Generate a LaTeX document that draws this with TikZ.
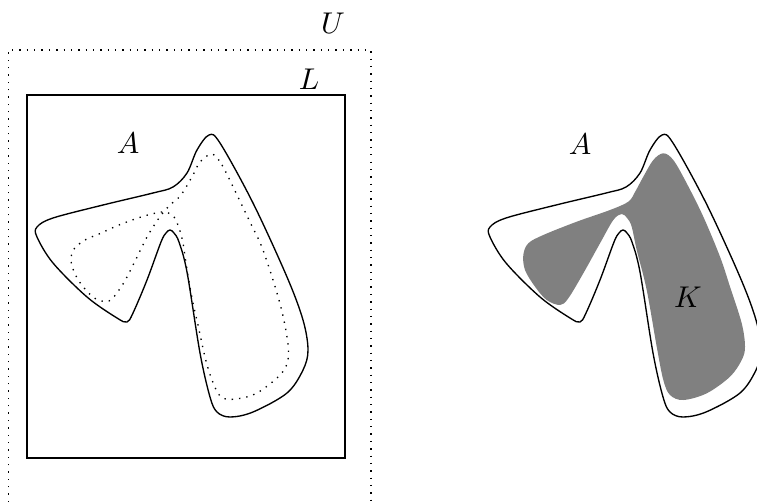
\documentclass[tikz,border=0pt]{standalone}
\begin{document}
\begin{tikzpicture}[x=0.3333pt,y=-0.3333pt,
  outline/.style={line width=0.45pt, line join=round},
  inner/.style={line width=0.45pt, dotted},
  frame/.style={line width=0.75pt},
  uframe/.style={line width=0.45pt, dotted},
  kfill/.style={fill=gray, draw=none},
  lab/.style={inner sep=0pt, font=\normalsize}]
\useasboundingbox (0,0) rectangle (757,502);
\clip (0,0) rectangle (757,502);
% universe U (dotted, open at the bottom)
\draw[uframe] (8.3,502) -- (8.3,50) -- (371,50) -- (371,502);
\node[lab] (U) at (333,23) {$U$};
% box L
\draw[frame] (27,95) rectangle (345,458);
\node[lab] (L) at (309,79) {$L$};
% labels A
\node[lab] (A1) at (128,143) {$A$};
\node[lab] (A2) at (580,144) {$A$};
% K filled set (right figure)
\begin{scope}[shift={(453,0)}]
\fill[kfill] plot[smooth cycle, tension=0.55] coordinates {
 (210.3,153.3) (220.3,160) (233.7,183.3) (250.3,216.7) (267,256.7) (277,286.7)
 (288.7,323.3) (292,346.7) (288.7,360) (277,376.7) (253.7,393.3) (230.3,400)
 (217,395) (210.3,380) (203.7,346.7) (193.7,290) (183.7,250) (178.7,226.7)
 (174.3,218.3) (168.7,214) (160.3,220) (147,243.3) (130.3,273.3) (115.3,298.3)
 (107,305) (93.7,300) (82,286.7) (72,270) (70.3,255) (75.3,243.3) (90.3,235)
 (123.7,221.7) (157,210) (175.3,201.7) (182,192) (190.3,176.7) (200.3,160)};
\end{scope}
\node[lab] (K) at (688,297) {$K$};
% outer curves A
\foreach \dx in {0,453} {
\draw[outline, shift={(\dx,0)}] plot[smooth cycle, tension=0.55] coordinates {
 (209,135) (220,143) (253,203) (287,277) (303,320) (308,350) (303,370) (287,393)
 (253,412) (230,417) (217,412) (210,397) (200,353) (187,272) (179,242) (174,233)
 (170,230) (166,233) (161,242) (147,280) (133,313) (127,322) (117,318) (87,297)
 (53,263) (37,237) (37,227) (53,218) (103,205) (153,193) (173,187) (187,173) (197,150)};
}
% dotted inner curve (left figure)
\draw[inner] plot[smooth cycle, tension=0.55] coordinates {
 (212,154) (222,165) (236,193) (250,222) (263,250) (279,300) (287,337) (288,360)
 (280,375) (257,393) (236,399) (221,397) (212,380) (205,357) (198,325) (193,303)
 (187,270) (183,243) (179,228) (174,217) (166,212) (156,213) (141,217) (119,225)
 (99,234) (85,240) (74,249) (71,261) (76,276) (85,289) (96,299) (109,301)
 (119,290) (127,277) (137,257) (147,237) (155,224) (162,214) (170,205) (181,195)
 (193,175) (200,162)};
\end{tikzpicture}
\end{document}
